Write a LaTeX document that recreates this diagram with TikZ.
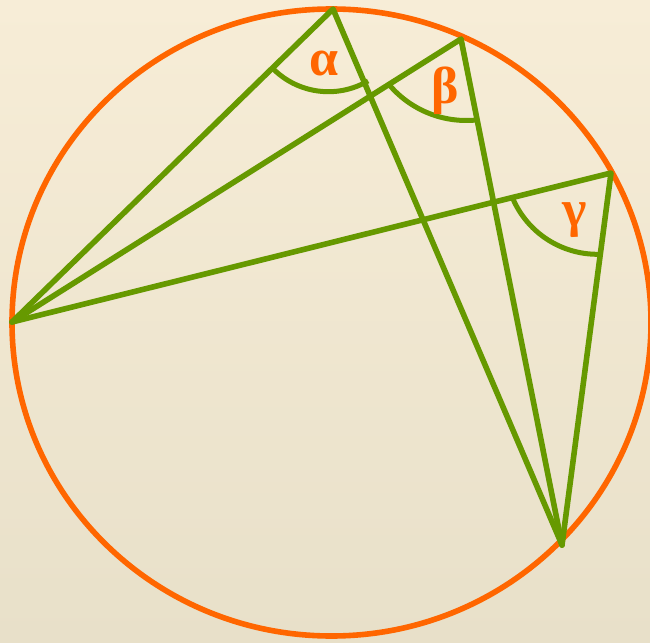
\documentclass[tikz,border=0pt]{standalone}
\usepackage{fontspec}
\newfontfamily\grk{Liberation Serif}
\definecolor{org}{HTML}{FF6600}
\definecolor{grn}{HTML}{669900}
\definecolor{bgtop}{HTML}{F7EDD7}
\definecolor{bgbot}{HTML}{E8E0C9}
\begin{document}
\begin{tikzpicture}[x=1pt,y=-1pt,
  chord/.style={draw=grn,line width=5.6pt,line cap=round,line join=round},
  anglearc/.style={draw=grn,line width=5pt},
  anglelbl/.style={text=org,font=\grk\bfseries\fontsize{52}{52}\selectfont,inner sep=0pt}]
\useasboundingbox (0,0) rectangle (650,642);
\shade[top color=bgtop,bottom color=bgbot] (0,0) rectangle (650,642);
\draw[org,line width=5.6pt] (331.5,322.5) ellipse [x radius=319.5pt, y radius=313.5pt];
\coordinate (A) at (12,322);
\coordinate (P1) at (333,9);
\coordinate (P2) at (461,39);
\coordinate (P3) at (611,173);
\coordinate (B) at (562,545);
\draw[chord] (A) -- (P1) -- (B);
\draw[chord] (A) -- (P2) -- (B);
\draw[chord] (A) -- (P3) -- (B);
\draw[anglearc] plot[domain=59.5:137,samples=40] ({328.4+78.2*cos(\x)},{13.5+78.2*sin(\x)});
\draw[anglearc] plot[domain=83:141,samples=40] ({466.3+101.1*cos(\x)},{19.4+101.1*sin(\x)});
\draw[anglearc] plot[domain=87.8:158,samples=40] ({597.5+92.2*cos(\x)},{162.1+92.2*sin(\x)});
\node[anglelbl] (la) at (324,64) {α};
\node[anglelbl] (lb) at (445.5,91) {β};
\node[anglelbl] (lg) at (575,220) {γ};
\end{tikzpicture}
\end{document}
